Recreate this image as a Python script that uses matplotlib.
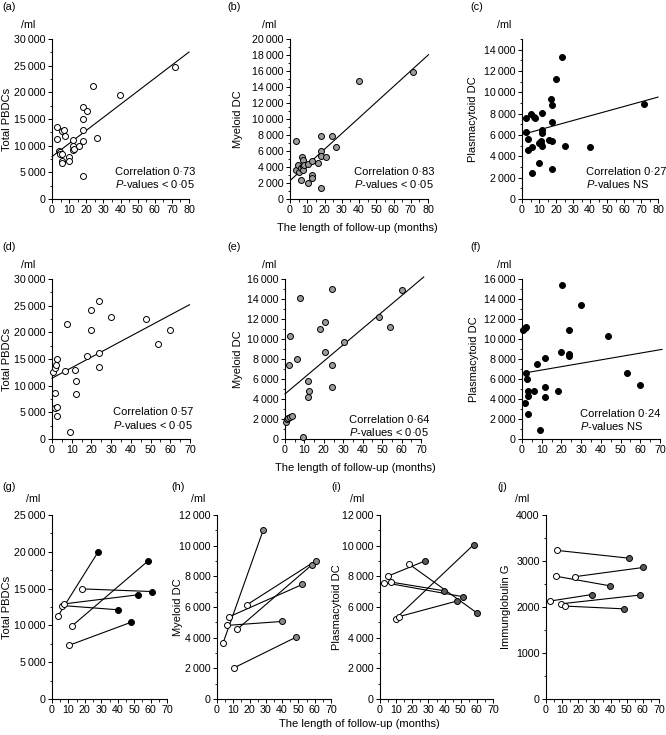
import matplotlib
matplotlib.use('Agg')
import matplotlib.pyplot as plt
from matplotlib.ticker import MultipleLocator, FuncFormatter
import numpy as np

plt.rcParams['font.family'] = ['Liberation Sans', 'DejaVu Sans']
plt.rcParams['mathtext.fontset'] = 'custom'
plt.rcParams['mathtext.it'] = 'Liberation Sans:italic'
plt.rcParams['mathtext.rm'] = 'Liberation Sans'

# ---------------- data (values in cells/ml, x in months) ----------------
a_x = [2.9, 2.9, 4.3, 4.5, 4.8, 6.0, 7.2, 7.8, 6.0, 6.0, 6.0, 9.7, 9.7, 12.2, 12.2, 12.2, 12.6,
       15.9, 17.9, 17.9, 17.9, 17.9, 17.9, 20.4, 23.9, 26.2, 39.8, 71.8]
a_y = [13460, 11200, 9080, 8900, 8500, 12800, 13000, 11900, 8450, 7100, 6800, 7950, 7100, 11100,
       10000, 9100, 9300, 10000, 17300, 15000, 13000, 10800, 4300, 16500, 21200, 11400, 19500, 24700]
a_fit = (7950, 245)      # intercept, slope
a_text = ("Correlation 0·73", "< 0·05")

b_x = [3.7, 3.3, 4.6, 5.2, 6.2, 6.2, 6.7, 7.3, 7.7, 7.3, 8.1, 10.2, 10.6, 12.5, 12.5, 12.5, 16.0,
       17.9, 18.1, 18.1, 18.1, 20.6, 24.1, 26.4, 39.9, 71.3]
b_y = [7300, 3600, 4250, 3400, 3850, 2400, 5300, 4900, 4100, 3600, 4250, 1950, 4400, 4700, 3000,
       2600, 4500, 1400, 7900, 6000, 5400, 5300, 7900, 6500, 14700, 15900]
b_fit = (2300, 196)
b_text = ("Correlation 0·83", "< 0·05")

c_x = [2.4, 2.4, 3.7, 3.7, 5.5, 6.1, 5.9, 6.9, 7.6, 9.8, 9.8, 11.4, 11.8, 11.8, 11.8, 11.8, 11.4,
       16.1, 17.1, 17.6, 17.6, 17.6, 17.6, 20.0, 23.5, 25.5, 39.8, 71.8]
c_y = [7580, 6260, 5600, 4600, 7950, 2400, 4850, 7700, 7580, 5230, 3410, 5170, 8050, 6480, 6230,
       4980, 5400, 5540, 9360, 8800, 7200, 5400, 2790, 11240, 13280, 4980, 4850, 8930]
c_fit = (6040, 43.9)
c_text = ("Correlation 0·27", "NS")

d_x = [0.5, 1.4, 2.2, 2.5, 1.7, 1.4, 2.5, 2.5, 6.4, 7.6, 9.0, 11.5, 12.0, 12.0, 18.0, 20.0, 20.0,
       23.7, 23.7, 23.7, 29.8, 47.6, 53.6, 59.8]
d_y = [12650, 13300, 13900, 15000, 8600, 5760, 6070, 4320, 12770, 21540, 1250, 12960, 10900, 8390,
       15590, 24100, 20350, 25800, 16100, 13460, 22900, 22540, 17780, 20350]
d_fit = (11400, 197.6)
d_text = ("Correlation 0·57", "< 0·05")

e_x = [0.7, 0.9, 1.5, 2.1, 2.6, 2.7, 3.4, 6.3, 7.9, 9.2, 12.0, 12.3, 12.0, 18.0, 20.4, 20.5, 24.3,
       24.3, 24.3, 30.5, 48.5, 54.3, 60.3]
e_y = [1740, 1970, 2070, 7410, 2240, 10350, 2340, 8020, 14060, 230, 5810, 4810, 4240, 10960, 8750,
       11720, 15030, 7450, 5240, 9690, 12220, 11190, 14930]
e_fit = (4510, 163.7)
e_text = ("Correlation 0·64", "< 0·05")

f_x = [0.5, 1.4, 2.2, 1.4, 1.9, 2.5, 2.9, 3.1, 3.1, 6.3, 7.6, 9.3, 11.9, 11.9, 11.9, 18.3, 19.9,
       20.2, 23.8, 23.8, 23.8, 29.9, 43.5, 53.3, 60.0]
f_y = [10930, 11070, 11200, 3600, 6600, 6000, 4330, 4830, 2530, 4830, 7530, 870, 8100, 5170, 4170,
       4770, 8700, 15370, 10930, 8500, 8270, 13430, 10270, 6630, 5370]
f_fit = (6560, 33.8)
f_text = ("Correlation 0·24", "NS")

# paired follow-up: first (open) and last (filled) measurements
g_x0 = [3.7, 6.1, 7.6, 12.3, 18.4, 10.2]
g_y0 = [11300, 12700, 12930, 9950, 14960, 7280]
g_x1 = [28.2, 40.3, 52.1, 58.7, 60.7, 48.3]
g_y1 = [20030, 12120, 14150, 18800, 14600, 10440]

h_x0 = [3.7, 6.3, 7.4, 12.3, 18.6, 10.2]
h_y0 = [3650, 4800, 5360, 4540, 6160, 2020]
h_x1 = [28.4, 40.1, 52.4, 58.3, 60.9, 48.7]
h_y1 = [11020, 5060, 7470, 8750, 9030, 4040]

i_x0 = [5.1, 2.7, 6.6, 9.7, 11.7, 18.1]
i_y0 = [8020, 7590, 7630, 5240, 5370, 8790]
i_x1 = [27.8, 51.5, 39.5, 58.1, 47.7, 60.1]
i_y1 = [9000, 6670, 7060, 10070, 6390, 5610]

j_x0 = [7.0, 18.1, 6.0, 2.7, 9.5, 11.7]
j_y0 = [3230, 2660, 2670, 2130, 2070, 2020]
j_x1 = [51.7, 60.3, 39.7, 28.2, 58.3, 48.2]
j_y1 = [3060, 2860, 2460, 2270, 2260, 1960]

# ---------------- figure ----------------
W, H = 666, 735
fig = plt.figure(figsize=(W / 100, H / 100), dpi=100)

TICK_FS = 7.7
LAB_FS = 8.0


def add_ax(x0, x1, ytop, ybot):
    return fig.add_axes([x0 / W, 1 - ybot / H, (x1 - x0) / W, (ybot - ytop) / H])


def ftxt(x, y, s, **kw):
    kw.setdefault('fontsize', LAB_FS)
    fig.text(x / W, 1 - y / H, s, **kw)


def thou(v, pos):
    v = int(round(v))
    if v >= 1000:
        return f"{v // 1000}\u2009{v % 1000:03d}"
    return str(v)


def style(ax, xmax, ymax, ymajor, yminor, spaced=True):
    ax.set_xlim(0, xmax)
    ax.set_ylim(0, ymax)
    for s in ['top', 'right']:
        ax.spines[s].set_visible(False)
    for s in ['left', 'bottom']:
        ax.spines[s].set_linewidth(0.8)
    ax.xaxis.set_major_locator(MultipleLocator(10))
    ax.xaxis.set_minor_locator(MultipleLocator(5))
    ax.yaxis.set_major_locator(MultipleLocator(ymajor))
    ax.yaxis.set_minor_locator(MultipleLocator(yminor))
    if spaced:
        ax.yaxis.set_major_formatter(FuncFormatter(thou))
    else:
        ax.yaxis.set_major_formatter(FuncFormatter(lambda v, p: str(int(round(v)))))
    ax.tick_params(which='major', direction='out', length=3, width=0.7,
                   labelsize=TICK_FS, pad=1.5)
    ax.tick_params(which='minor', direction='out', length=1.8, width=0.6)
    ax.patch.set_alpha(0)


def scatter_panel(ax, xs, ys, fit, x_range, face):
    xx = np.array(x_range)
    ax.plot(xx, fit[0] + fit[1] * xx, color='black', lw=0.8, zorder=2, clip_on=False)
    ax.plot(xs, ys, 'o', ms=4.3, mfc=face, mec='black', mew=0.7, zorder=3, clip_on=False)


def paired_panel(ax, x0, y0, x1, y1, face):
    for a, b, c, d in zip(x0, y0, x1, y1):
        ax.plot([a, c], [b, d], color='black', lw=0.8, zorder=2, clip_on=False)
    ax.plot(x1, y1, 'o', ms=4.3, mfc=face, mec='black', mew=0.7, zorder=3, clip_on=False)
    ax.plot(x0, y0, 'o', ms=4.3, mfc='white', mec='black', mew=0.7, zorder=4, clip_on=False)


GRAY = '#9c9c9c'
DARK = '#5a5a5a'
MID = '#8a8a8a'

# ---- row 1 ----
ax_a = add_ax(52, 189, 39, 199)
style(ax_a, 80, 30000, 5000, 2500)
scatter_panel(ax_a, a_x, a_y, a_fit, [0, 80], 'white')

ax_b = add_ax(290, 428, 39, 199)
style(ax_b, 80, 20000, 2000, 1000)
scatter_panel(ax_b, b_x, b_y, b_fit, [0.4, 80.3], GRAY)

ax_c = add_ax(522, 658, 39, 199)
style(ax_c, 80, 15000, 2000, 1000)
scatter_panel(ax_c, c_x, c_y, c_fit, [1, 80], 'black')

# ---- row 2 ----
ax_d = add_ax(52, 190, 279, 439)
style(ax_d, 70, 30000, 5000, 2500)
scatter_panel(ax_d, d_x, d_y, d_fit, [0, 69.7], 'white')

ax_e = add_ax(285, 421, 279, 439)
style(ax_e, 70, 16000, 2000, 1000)
scatter_panel(ax_e, e_x, e_y, e_fit, [0, 71.4], GRAY)

ax_f = add_ax(522, 660, 279, 439)
style(ax_f, 70, 16000, 2000, 1000)
scatter_panel(ax_f, f_x, f_y, f_fit, [1.7, 71], 'black')

# ---- row 3 ----
ax_g = add_ax(52, 167, 515, 699)
style(ax_g, 70, 25000, 5000, 2500)
paired_panel(ax_g, g_x0, g_y0, g_x1, g_y1, 'black')

ax_h = add_ax(217, 331, 515, 699)
style(ax_h, 70, 12000, 2000, 1000)
paired_panel(ax_h, h_x0, h_y0, h_x1, h_y1, MID)

ax_i = add_ax(380, 493, 515, 699)
style(ax_i, 70, 12000, 2000, 1000)
paired_panel(ax_i, i_x0, i_y0, i_x1, i_y1, DARK)

ax_j = add_ax(546, 659, 515, 699)
style(ax_j, 70, 4000, 1000, 500, spaced=False)
paired_panel(ax_j, j_x0, j_y0, j_x1, j_y1, DARK)

# ---- panel letters, units, axis labels ----
letters = [('(a)', 2, 7), ('(b)', 227, 7), ('(c)', 470, 7),
           ('(d)', 2, 247), ('(e)', 227, 247), ('(f)', 470, 247),
           ('(g)', 2, 487), ('(h)', 171, 487), ('(i)', 331, 487), ('(j)', 497, 487)]
for s, x, y in letters:
    ftxt(x, y, s, ha='left', va='center', fontsize=7.8)

units = [(28, 25), (269, 25), (504, 25), (28, 265), (269, 265), (504, 265),
         (33, 499), (198, 499), (357, 499), (522, 499)]
for x, y in units:
    ftxt(x, y, '/ml', ha='center', va='center', fontsize=7.7)

ylabels = [('Total PBDCs', 7, 119), ('Myeloid DC', 238, 119), ('Plasmacytoid DC', 473, 119),
           ('Total PBDCs', 7, 359), ('Myeloid DC', 238, 359), ('Plasmacytoid DC', 474, 359),
           ('Total PBDCs', 7, 607), ('Myeloid DC', 178, 607), ('Plasmacytoid DC', 337, 607),
           ('Immunglobulin G', 506, 607)]
for s, x, y in ylabels:
    ftxt(x, y, s, rotation=90, ha='center', va='center')

for x, y in [(357, 228), (355, 468), (359, 724)]:
    ftxt(x, y, 'The length of follow-up (months)', ha='center', va='center')

# ---- correlation annotations ----
corr_pos = [(a_text, 115, 172), (b_text, 354, 172), (c_text, 586, 172),
            (d_text, 113, 412), (e_text, 349, 420), (f_text, 580, 414)]
for (c1, p), x, y in corr_pos:
    ftxt(x, y, c1, ha='left', va='center')
    ftxt(x, y + 12.5, r'$\mathit{P}$' + '-values ' + p, ha='left', va='center')

fig.savefig('out.png', dpi=100)
